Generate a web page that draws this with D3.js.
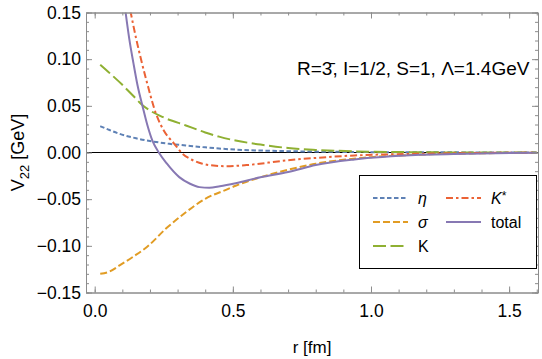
<!DOCTYPE html>
<html><head><meta charset="utf-8">
<script src="https://cdn.jsdelivr.net/npm/d3@7"></script>
<style>html,body{margin:0;padding:0;background:#fff;}svg{display:block;font-family:"Liberation Sans",Arial,sans-serif;}</style>
</head><body>
<script>
// ---- data ----
const etaR   = [0.02, 0.05, 0.09, 0.15, 0.21, 0.27, 0.33, 0.40, 0.45, 0.51, 0.60, 0.70, 0.85, 1.00, 1.20, 1.40, 1.60];
const etaV   = [0.0282, 0.0245, 0.0200, 0.0152, 0.0118, 0.0093, 0.0075, 0.0055, 0.0043, 0.0031, 0.0021, 0.0014, 0.0008, 0.0004, 0.0002, 0.0001, 0.0];
const sigmaR = [0.02, 0.05, 0.09, 0.14, 0.19, 0.26, 0.33, 0.40, 0.475, 0.51, 0.60, 0.70, 0.80, 0.90, 1.00, 1.20, 1.40, 1.60];
const sigmaV = [-0.1300, -0.1280, -0.1210, -0.1115, -0.1010, -0.0810, -0.0640, -0.0496, -0.0400, -0.0356, -0.0265, -0.0185, -0.0120, -0.0078, -0.0050, -0.0020, -0.0008, -0.0003];
const kR     = [0.02, 0.06, 0.10, 0.14, 0.17, 0.20, 0.25, 0.33, 0.40, 0.45, 0.51, 0.60, 0.70, 0.80, 0.95, 1.10, 1.30, 1.60];
const kV     = [0.0940, 0.0835, 0.0725, 0.0605, 0.0515, 0.0450, 0.0375, 0.0290, 0.0215, 0.0170, 0.0128, 0.0085, 0.0048, 0.0028, 0.0012, 0.0005, 0.0001, 0.0];
const kstarR = [0.129, 0.15, 0.17, 0.19, 0.222, 0.25, 0.288, 0.318, 0.35, 0.39, 0.43, 0.475, 0.55, 0.69, 0.80, 0.94, 1.18, 1.40, 1.60];
const kstarV = [0.152, 0.122, 0.097, 0.074, 0.0414, 0.0235, 0.0093, -0.0014, -0.0075, -0.0121, -0.0140, -0.0147, -0.0135, -0.0086, -0.0058, -0.0032, -0.0014, -0.0005, -0.0002];
const totalR = [0.111, 0.125, 0.14, 0.155, 0.174, 0.19, 0.21, 0.232, 0.26, 0.306, 0.345, 0.379, 0.415, 0.453, 0.51, 0.60, 0.70, 0.80, 0.94, 1.18, 1.40, 1.60];
const totalV = [0.152, 0.122, 0.096, 0.072, 0.0486, 0.030, 0.0118, 0.0, -0.0115, -0.0264, -0.0335, -0.0371, -0.0378, -0.0362, -0.0329, -0.0265, -0.0210, -0.0135, -0.0075, -0.0025, -0.0010, -0.0003];

const seriesNames = ["η", "σ", "K", "K*", "total"];
const xTicks = [0.0, 0.5, 1.0, 1.5];
const yTicks = [-0.15, -0.10, -0.05, 0.00, 0.05, 0.10, 0.15];
const titleText = "R=3\u0304, I=1/2, S=1, Λ=1.4GeV";

// ---- layout ----
const W = 542, H = 359;
const L = 86, R = 538, T = 12.5, B = 292.5;
const x = d3.scaleLinear().domain([-0.0315, 1.6045]).range([L, R]);
const y = d3.scaleLinear().domain([-0.15, 0.15]).range([B, T]);

const svg = d3.select("body").append("svg").attr("width", W).attr("height", H);

svg.append("defs").append("clipPath").attr("id", "clip")
  .append("rect").attr("x", L).attr("y", T).attr("width", R - L).attr("height", B - T);

// zero line
svg.append("line").attr("x1", L).attr("x2", R).attr("y1", y(0)).attr("y2", y(0))
  .attr("stroke", "#000").attr("stroke-width", 1);

const series = [
  {r: etaR, v: etaV, color: "#5E81B5", dash: "4.5,2.5"},
  {r: sigmaR, v: sigmaV, color: "#E19C24", dash: "7,3"},
  {r: kR, v: kV, color: "#8FB032", dash: "13,4.5"},
  {r: kstarR, v: kstarV, color: "#EB6235", dash: "7,3,2.5,3"},
  {r: totalR, v: totalV, color: "#8778B3", dash: null}
];

const line = d3.line().x(d => x(d[0])).y(d => y(d[1])).curve(d3.curveMonotoneX);
const g = svg.append("g").attr("clip-path", "url(#clip)");
series.forEach(s => {
  g.append("path").datum(s.r.map((r, i) => [r, s.v[i]]))
    .attr("d", line).attr("fill", "none").attr("stroke", s.color)
    .attr("stroke-width", 2).attr("stroke-dasharray", s.dash);
});

// frame with ticks
const frameColor = "#8c8c8c";
const xMinor = d3.range(0, 1.61, 0.1);
const yMinor = d3.range(-15, 16, 1).map(d => d / 100);
const axB = d3.axisBottom(x).tickValues(xTicks).tickFormat(d3.format(".1f")).tickSizeInner(-6).tickSizeOuter(0).tickPadding(12);
const axL = d3.axisLeft(y).tickValues(yTicks).tickFormat(d => d3.format(".2f")(d).replace("-", "\u2212")).tickSizeInner(-6).tickSizeOuter(0).tickPadding(5);
const axT = d3.axisTop(x).tickValues(xTicks).tickFormat("").tickSizeInner(-6).tickSizeOuter(0);
const axR = d3.axisRight(y).tickValues(yTicks).tickFormat("").tickSizeInner(-6).tickSizeOuter(0);
const mB = d3.axisBottom(x).tickValues(xMinor).tickFormat("").tickSizeInner(-3).tickSizeOuter(0);
const mT = d3.axisTop(x).tickValues(xMinor).tickFormat("").tickSizeInner(-3).tickSizeOuter(0);
const mL = d3.axisLeft(y).tickValues(yMinor).tickFormat("").tickSizeInner(-3).tickSizeOuter(0);
const mR = d3.axisRight(y).tickValues(yMinor).tickFormat("").tickSizeInner(-3).tickSizeOuter(0);

function styleAx(sel) {
  sel.selectAll("path.domain").attr("stroke", frameColor);
  sel.selectAll("line").attr("stroke", frameColor);
  sel.selectAll("text").attr("fill", "#000").style("font-size", "17.5px").style("font-family", "'Liberation Sans', Arial, sans-serif");
}
[[mB, `translate(0,${B})`], [mT, `translate(0,${T})`], [mL, `translate(${L},0)`], [mR, `translate(${R},0)`],
 [axB, `translate(0,${B})`], [axT, `translate(0,${T})`], [axL, `translate(${L},0)`], [axR, `translate(${R},0)`]]
  .forEach(([ax, tr]) => { const a = svg.append("g").attr("transform", tr).call(ax); styleAx(a); });

// axis labels
svg.append("text").attr("x", (L + R) / 2).attr("y", 353).attr("text-anchor", "middle")
  .style("font-size", "17px").text("r [fm]");
const yl = svg.append("text").attr("transform", `translate(24,${y(0)}) rotate(-90)`).attr("text-anchor", "middle")
  .style("font-size", "18px");
yl.append("tspan").text("V");
yl.append("tspan").attr("dy", 5).style("font-size", "13px").text("22");
yl.append("tspan").attr("dy", -5).text(" [GeV]");

// title annotation
svg.append("text").attr("x", 297).attr("y", 75).style("font-size", "19px").text(titleText);

// legend
const lg = svg.append("g");
lg.append("rect").attr("x", 359.5).attr("y", 175.5).attr("width", 177).attr("height", 93)
  .attr("fill", "#fff").attr("stroke", "#000").attr("stroke-width", 1);
const legPos = [[373, 198], [373, 222], [373, 246], [446, 198], [446, 222]];
series.forEach((s, i) => {
  const [lx, ly] = legPos[i];
  lg.append("line").attr("x1", lx).attr("x2", lx + 35).attr("y1", ly).attr("y2", ly)
    .attr("stroke", s.color).attr("stroke-width", 2).attr("stroke-dasharray", s.dash);
  const t = lg.append("text").attr("x", lx + 45).attr("y", ly + 5.5).style("font-size", "16px");
  if (seriesNames[i] === "η" || seriesNames[i] === "σ") t.style("font-style", "italic").text(seriesNames[i]);
  else if (seriesNames[i] === "K*") { t.append("tspan").style("font-style", "italic").text("K"); t.append("tspan").attr("dy", -4).style("font-size", "12px").text("*"); }
  else t.text(seriesNames[i]);
});
</script>
</body></html>
